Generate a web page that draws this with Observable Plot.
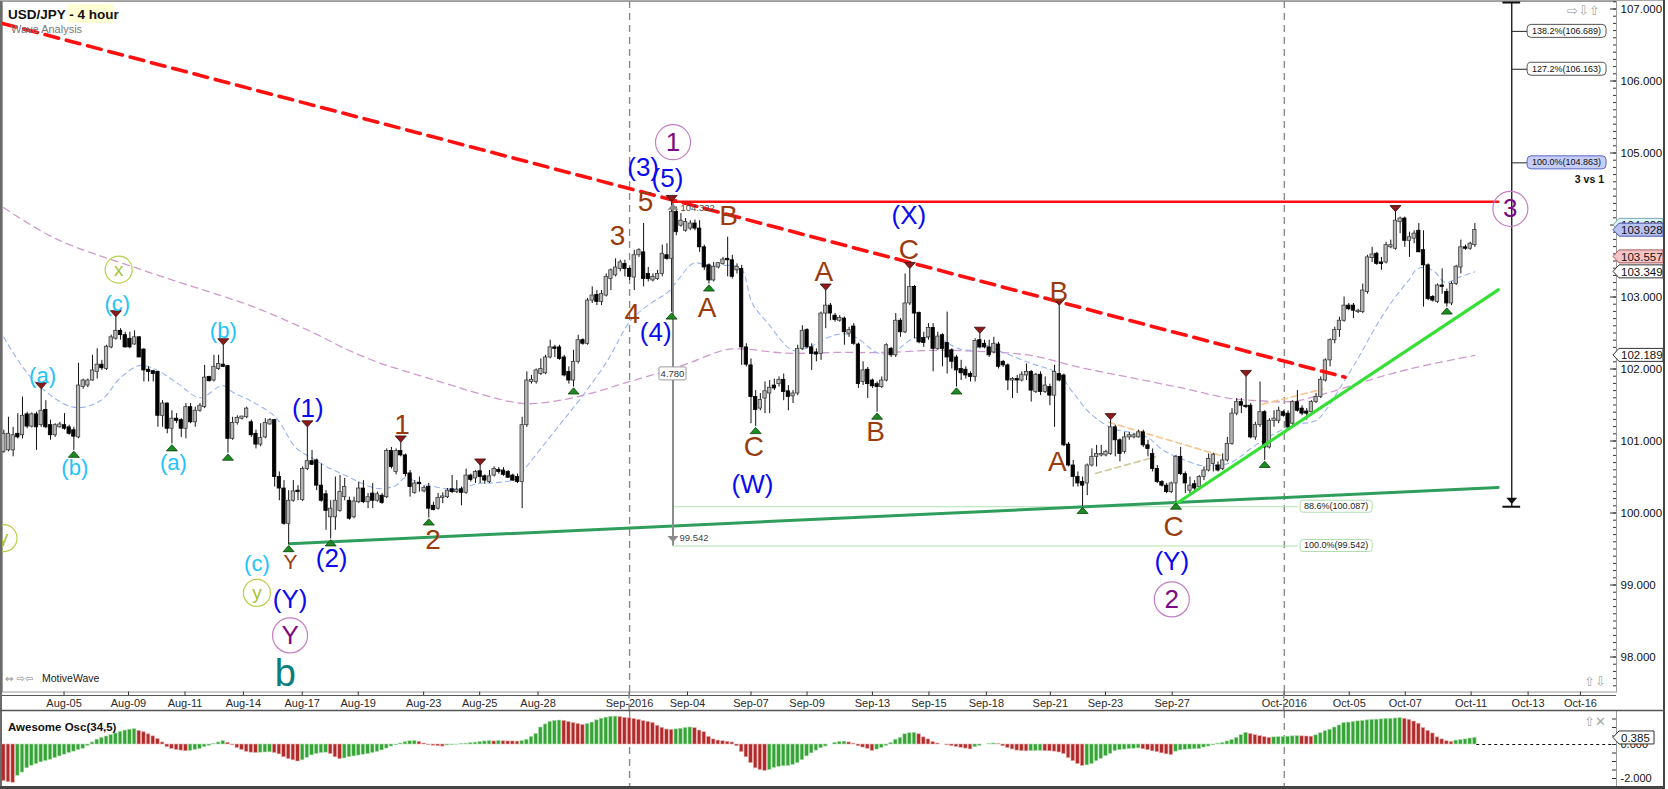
<!DOCTYPE html>
<html>
<head>
<meta charset="utf-8">
<script src="https://cdn.jsdelivr.net/npm/d3@7"></script>
<script src="https://cdn.jsdelivr.net/npm/@observablehq/plot@0.6"></script>
<style>
html,body{margin:0;padding:0;background:#fff;}
#wrap{position:relative;width:1668px;height:789px;overflow:hidden;}
#wrap svg{display:block;}
#overlay{position:absolute;left:0;top:0;}
</style>
</head>
<body>
<div id="wrap"></div>
<script>
// ---------------- DATA (USD/JPY 4-hour candles, bar index 0..315) ----------------
const openP = [
100.85,100.87,100.87,101.10,101.08,101.37,101.20,101.37,101.22,101.43,
101.22,101.08,101.19,101.22,101.19,101.15,101.05,101.75,101.77,101.84,
101.96,102.06,102.00,102.30,102.42,102.53,102.47,102.42,102.34,102.44,
102.27,101.99,101.97,101.96,101.35,101.52,101.17,101.31,101.29,101.17,
101.47,101.26,101.42,101.47,101.89,101.84,102.00,102.06,102.04,101.03,
101.25,101.31,101.33,101.26,101.10,100.95,101.05,101.23,101.29,100.50,
100.34,99.85,100.17,100.31,100.18,100.61,100.72,100.73,100.38,100.26,
99.94,99.94,100.03,100.22,100.17,99.94,100.15,100.34,100.15,100.27,
100.17,100.24,100.22,100.86,100.57,100.86,100.80,100.55,100.28,100.42,
100.30,100.36,100.10,100.06,100.21,100.22,100.33,100.29,100.33,100.28,
100.52,100.48,100.58,100.51,100.43,100.52,100.60,100.59,100.57,100.52,
100.50,100.43,101.22,101.82,101.82,101.93,101.94,102.16,102.30,102.30,
102.16,101.96,101.84,102.10,102.40,102.35,102.95,103.03,102.93,103.02,
103.25,103.30,103.39,103.46,103.39,103.27,103.58,103.62,103.32,103.23,
103.25,103.32,103.58,103.53,104.18,103.99,103.92,103.95,104.02,103.95,
103.69,103.44,103.23,103.41,103.46,103.53,103.51,103.37,103.39,102.30,
102.05,101.61,101.45,101.59,101.66,101.77,101.79,101.85,101.69,101.62,
101.66,102.28,102.54,102.30,102.23,102.21,102.77,102.88,102.74,102.67,
102.70,102.49,102.59,102.34,101.82,101.99,101.84,101.79,101.75,101.84,
102.28,102.19,102.67,102.51,102.91,103.14,102.78,102.43,102.44,102.57,
102.28,102.47,102.36,102.26,102.16,102.00,101.99,101.93,101.89,102.40,
102.35,102.30,102.23,102.34,102.10,102.05,101.84,101.86,101.84,101.91,
101.96,101.68,101.92,101.68,101.75,101.63,101.93,101.91,100.95,100.66,
100.50,100.43,100.41,100.66,100.78,100.80,100.80,100.82,101.19,101.01,
100.85,101.05,101.05,101.05,101.12,100.94,100.82,100.61,100.43,100.38,
100.29,100.41,100.78,100.54,100.31,100.40,100.36,100.50,100.59,100.68,
100.66,100.61,100.73,100.96,101.38,101.54,101.49,101.49,101.05,101.22,
101.40,100.91,101.28,101.28,101.40,101.38,101.24,101.54,101.45,101.41,
101.40,101.54,101.61,101.84,102.12,102.40,102.54,102.67,102.88,102.88,
102.79,102.79,103.07,103.54,103.60,103.48,103.48,103.69,103.67,104.04,
104.09,103.78,103.81,103.92,103.65,103.44,103.00,102.93,103.16,103.07,
102.91,103.18,103.41,103.69,103.67,103.72];
const highP = [
101.15,101.33,101.19,101.38,101.61,101.40,101.39,101.40,101.72,101.56,
101.29,101.24,101.26,101.38,101.22,101.19,102.08,101.86,101.86,102.19,
102.28,102.12,102.33,102.47,102.72,102.56,102.51,102.51,102.53,102.45,
102.28,102.03,101.98,101.96,101.56,101.53,101.42,101.38,101.31,101.52,
101.52,101.47,101.52,102.05,101.90,102.19,102.19,102.33,102.05,101.33,
101.35,101.33,101.47,101.29,101.15,101.24,101.31,101.31,101.30,100.57,
100.45,100.31,100.45,100.38,100.64,101.19,100.87,100.75,100.68,100.31,
100.17,100.50,100.52,100.48,100.22,100.22,100.43,100.45,100.27,100.41,
100.29,100.27,100.89,100.91,100.89,100.98,100.82,100.59,100.45,100.50,
100.38,100.41,100.15,100.27,100.28,100.34,100.52,100.45,100.36,100.61,
100.54,100.59,100.66,100.53,100.59,100.64,100.63,100.63,100.59,100.54,
100.54,101.33,101.96,101.91,102.00,102.14,102.19,102.40,102.33,102.33,
102.19,102.03,102.26,102.47,102.42,102.98,103.14,103.09,103.09,103.32,
103.39,103.53,103.51,103.51,103.41,103.65,103.67,104.02,103.41,103.32,
103.37,103.72,103.74,104.32,104.25,104.16,104.09,104.06,104.07,104.06,
103.72,103.46,103.48,103.48,103.55,103.83,103.58,103.46,103.44,102.35,
102.14,101.70,101.66,101.82,101.84,101.86,101.89,101.93,101.77,101.70,
102.33,102.60,102.56,102.35,102.28,102.79,103.09,102.91,102.77,102.74,
102.72,102.58,102.63,102.36,102.10,102.02,101.86,101.82,101.89,102.35,
102.30,102.77,102.70,103.32,103.39,103.16,102.79,102.51,102.63,102.63,
102.51,102.49,102.79,102.28,102.19,102.12,102.03,101.96,102.42,102.49,
102.40,102.40,102.44,102.37,102.12,102.07,101.88,101.91,101.96,102.07,
101.98,101.94,101.96,101.89,101.79,102.05,102.88,101.93,100.98,100.73,
100.57,100.50,100.68,100.89,100.94,100.94,100.87,101.29,101.22,101.03,
101.12,101.12,101.10,101.15,101.15,101.01,100.89,100.66,100.45,100.41,
100.43,100.80,100.91,100.57,100.50,100.45,100.52,100.64,100.82,100.83,
100.71,100.82,101.05,101.45,101.59,101.59,101.89,101.52,101.26,101.82,
101.42,101.31,101.42,101.47,101.42,101.42,101.56,101.70,101.49,101.45,
101.56,101.66,101.89,102.14,102.42,102.58,102.72,103.00,102.91,102.91,
102.83,103.18,103.58,103.69,103.62,103.55,103.76,103.79,104.18,104.11,
104.11,103.90,103.92,104.02,103.92,103.46,103.02,103.18,103.39,103.11,
103.21,103.44,103.79,103.72,103.76,104.02];
const lowP = [
100.83,100.85,100.78,101.03,101.03,101.17,101.18,100.87,101.19,101.17,
101.01,101.05,101.18,101.15,101.08,100.87,101.03,101.72,101.74,101.83,
101.86,101.98,101.98,102.28,102.40,102.40,102.29,102.28,102.33,102.16,
101.82,101.82,101.82,101.19,101.19,101.10,100.96,101.24,101.05,101.03,
101.24,101.19,101.40,101.45,101.82,101.82,101.98,102.02,100.83,101.01,
101.22,101.29,101.31,101.05,100.89,100.92,101.03,101.22,100.36,100.17,
99.83,99.56,100.15,100.17,100.16,100.59,100.66,100.31,100.15,99.76,
99.64,99.76,100.01,100.17,99.90,99.92,100.13,100.13,100.06,100.06,
100.15,100.12,100.20,100.61,100.53,100.78,100.50,100.22,100.26,100.29,
100.28,99.93,100.03,100.04,100.13,100.20,100.27,100.27,100.10,100.26,
100.43,100.41,100.41,100.40,100.41,100.50,100.54,100.51,100.48,100.44,
100.41,100.06,101.19,101.79,101.79,101.91,101.92,102.14,102.16,102.12,
101.89,101.79,101.75,102.07,102.33,102.33,102.91,102.88,102.88,103.00,
103.09,103.28,103.35,103.28,103.23,103.09,103.55,103.14,103.21,103.21,
103.23,103.28,103.51,102.79,103.85,103.97,103.90,103.92,103.92,103.62,
103.37,103.18,103.21,103.39,103.44,103.28,103.25,103.32,102.05,102.03,
101.24,101.20,101.42,101.38,101.38,101.70,101.75,101.56,101.42,101.52,
101.63,102.26,102.28,101.98,102.10,102.12,102.56,102.67,102.65,102.65,
102.33,102.44,102.33,101.73,101.77,101.59,101.73,101.40,101.73,101.82,
102.16,102.16,102.44,102.49,102.88,102.42,102.35,102.30,102.40,101.96,
102.26,102.03,101.93,102.00,101.75,101.84,101.86,101.82,101.82,102.28,
102.28,102.16,102.21,102.00,102.02,101.70,101.59,101.66,101.82,101.84,
101.54,101.66,101.63,101.66,101.49,101.19,101.82,100.92,100.64,100.36,
100.36,100.09,100.24,100.64,100.64,100.78,100.78,100.80,100.78,100.71,
100.82,101.01,101.03,101.04,100.91,100.78,100.57,100.41,100.36,100.27,
100.27,100.15,100.52,100.27,100.27,100.31,100.34,100.45,100.57,100.57,
100.57,100.59,100.71,100.94,101.35,101.38,101.45,101.03,101.01,101.19,
100.73,100.89,101.19,101.24,101.33,101.17,101.19,101.40,101.35,101.29,
101.35,101.52,101.59,101.82,102.03,102.35,102.44,102.65,102.81,102.70,
102.77,102.77,103.04,103.48,103.44,103.37,103.46,103.67,103.65,103.88,
103.69,103.55,103.74,103.62,102.86,102.95,102.93,102.91,103.04,102.86,
102.88,103.16,103.32,103.65,103.65,103.69];
const closeP = [
101.10,101.10,101.08,101.05,101.35,101.20,101.37,101.19,101.42,101.19,
101.08,101.22,101.23,101.17,101.10,101.06,101.77,101.84,101.84,101.98,
102.06,102.01,102.31,102.44,102.53,102.47,102.30,102.30,102.44,102.16,
101.98,101.96,101.93,101.35,101.52,101.17,101.31,101.28,101.17,101.47,
101.26,101.42,101.49,101.88,101.83,102.03,102.07,102.03,101.03,101.25,
101.32,101.34,101.45,101.08,100.95,101.04,101.25,101.29,100.50,100.34,
99.85,100.17,100.30,100.29,100.61,100.72,100.67,100.38,100.17,100.03,
100.06,100.17,100.29,100.36,99.92,100.16,100.34,100.15,100.22,100.17,
100.26,100.14,100.86,100.64,100.86,100.80,100.54,100.36,100.41,100.40,
100.35,100.06,100.04,100.21,100.23,100.31,100.29,100.32,100.28,100.52,
100.46,100.57,100.50,100.45,100.51,100.61,100.57,100.53,100.49,100.45,
100.43,101.22,101.84,101.85,101.98,102.00,102.16,102.30,102.28,102.14,
101.91,101.84,102.10,102.40,102.35,102.95,103.02,102.93,103.04,103.28,
103.37,103.41,103.48,103.39,103.28,103.58,103.65,103.25,103.25,103.28,
103.32,103.60,103.53,104.18,103.90,104.06,104.04,104.02,103.95,103.69,
103.41,103.23,103.42,103.47,103.52,103.51,103.28,103.42,102.30,102.06,
101.61,101.43,101.57,101.69,101.74,101.73,101.85,101.68,101.61,101.66,
102.28,102.53,102.30,102.21,102.20,102.77,102.88,102.77,102.68,102.71,
102.51,102.54,102.35,101.79,101.98,101.79,101.76,101.75,101.84,102.33,
102.19,102.67,102.51,102.91,103.14,102.77,102.37,102.36,102.57,102.28,
102.45,102.28,102.16,102.10,101.98,101.94,101.91,101.89,102.39,102.30,
102.30,102.19,102.35,102.03,102.05,101.84,101.86,101.84,101.92,101.96,
101.70,101.92,101.68,101.77,101.63,101.96,101.84,100.94,100.66,100.50,
100.41,100.38,100.66,100.78,100.82,100.82,100.85,101.19,101.01,100.82,
101.05,101.08,101.08,101.12,100.94,100.89,100.61,100.43,100.38,100.29,
100.41,100.78,100.54,100.41,100.38,100.34,100.50,100.59,100.75,100.81,
100.59,100.73,100.96,101.38,101.54,101.49,101.47,101.05,101.22,101.40,
100.91,101.28,101.31,101.42,101.35,101.19,101.54,101.42,101.38,101.38,
101.54,101.61,101.85,102.12,102.40,102.54,102.67,102.88,102.83,102.81,
102.81,103.09,103.55,103.59,103.46,103.46,103.72,103.72,104.06,104.09,
103.78,103.83,103.88,103.62,103.44,102.97,102.95,103.16,103.14,102.91,
103.18,103.42,103.69,103.67,103.74,103.93];

// Awesome Oscillator (34,5) histogram, one value per bar
const oscVals = [
-2.15,-2.22,-2.25,-1.84,-1.65,-1.40,-1.25,-1.15,-1.05,-0.97,
-0.9,-0.8,-0.7,-0.6,-0.5,-0.42,-0.33,-0.25,-0.08,0.12,
0.28,0.38,0.47,0.55,0.65,0.74,0.82,0.87,0.9,0.8,
0.72,0.6,0.48,0.32,0.12,-0.15,-0.26,-0.32,-0.36,-0.4,
-0.37,-0.32,-0.26,-0.16,-0.08,0.02,0.12,0.2,0.1,-0.04,
-0.2,-0.32,-0.43,-0.48,-0.5,-0.48,-0.47,-0.46,-0.5,-0.58,
-0.75,-0.86,-0.93,-1.0,-0.93,-0.78,-0.64,-0.55,-0.5,-0.48,
-0.56,-0.75,-0.86,-0.82,-0.75,-0.7,-0.65,-0.6,-0.56,-0.5,
-0.43,-0.35,-0.24,-0.12,-0.04,0.06,0.14,0.19,0.2,0.15,
0.06,-0.03,-0.07,-0.1,-0.12,-0.06,-0.03,-0.01,0.02,0.05,
0.08,0.11,0.14,0.18,0.2,0.18,0.2,0.19,0.18,0.18,
0.17,0.2,0.28,0.45,0.62,1.0,1.18,1.33,1.39,1.41,
1.39,1.32,1.26,1.2,1.15,1.2,1.29,1.42,1.52,1.58,
1.62,1.64,1.61,1.57,1.54,1.5,1.45,1.38,1.33,1.26,
1.1,0.98,0.88,0.86,0.89,0.93,0.97,1.0,0.96,0.82,
0.72,0.45,0.3,0.23,0.19,0.16,0.12,-0.1,-0.45,-0.75,
-1.1,-1.4,-1.5,-1.55,-1.5,-1.38,-1.31,-1.28,-1.26,-1.2,
-1.1,-0.92,-0.7,-0.52,-0.36,-0.22,-0.12,0.0,0.1,0.15,
0.17,0.12,0.05,-0.1,-0.18,-0.25,-0.38,-0.3,-0.2,-0.08,
0.08,0.28,0.39,0.6,0.66,0.68,0.6,0.42,0.3,0.14,
0.06,0.0,-0.05,-0.1,-0.14,-0.19,-0.24,-0.29,-0.16,-0.08,
0.0,0.03,0.06,0.02,-0.1,-0.2,-0.29,-0.36,-0.39,-0.4,
-0.39,-0.38,-0.37,-0.39,-0.4,-0.42,-0.47,-0.56,-0.8,-0.98,
-1.15,-1.26,-1.23,-1.15,-0.98,-0.84,-0.68,-0.55,-0.38,-0.33,
-0.3,-0.27,-0.25,-0.23,-0.28,-0.33,-0.4,-0.45,-0.52,-0.58,
-0.62,-0.42,-0.35,-0.31,-0.29,-0.28,-0.27,-0.18,-0.12,-0.05,
0.05,0.1,0.18,0.26,0.39,0.55,0.68,0.62,0.55,0.49,
0.44,0.39,0.42,0.43,0.44,0.46,0.48,0.49,0.48,0.47,
0.46,0.54,0.66,0.78,0.87,1.0,1.12,1.26,1.29,1.32,
1.36,1.39,1.42,1.45,1.46,1.48,1.5,1.51,1.53,1.55,
1.51,1.45,1.35,1.22,0.97,0.8,0.65,0.42,0.3,0.19,
0.15,0.23,0.26,0.3,0.35,0.385];

// moving averages read at sample bars
const maFastIdx = [0,6.4,14.9,20.7,25,29.3,32.9,37.2,42.1,46.8,49.2,52.8,58.2,62.5,66.1,69.5,73.2,76.8,80.2,83.9,86,88.8,94.6,98.2,101.6,105.3,110,111.3,118.6,123.5,129.3,134.2,138.5,142.1,144.3,147.7,150.7,154.1,157.8,160.3,163.7,168.9,172.3,176.6,179.6,182.4,187.3,190.3,194.6,196.7,201,203.8,206.6,210.2,212.8,219.9,225.6,229.1,232.7,237.6,241.3,244.9,248.3,252,256.3,259,262.7,268.7,276,280.9,283,286.7,290.1,293.7,297.4,300.8,302.9,306,308.7,311.5,315];
const maFastVal = [102.44,101.84,101.47,101.56,101.88,102.05,101.98,101.80,101.60,101.77,101.67,101.56,101.33,100.91,100.76,100.63,100.52,100.41,100.34,100.38,100.49,100.42,100.34,100.35,100.41,100.42,100.48,100.59,101.19,101.59,102.12,102.67,102.91,103.06,103.23,103.47,103.44,103.44,103.40,102.91,102.63,102.26,102.30,102.44,102.49,102.44,102.22,102.23,102.42,102.44,102.40,102.30,102.26,102.33,102.26,102.08,101.94,101.66,101.38,101.17,101.12,101.05,100.87,100.76,100.66,100.66,100.70,100.97,101.22,101.28,101.42,101.80,102.16,102.58,102.95,103.23,103.40,103.37,103.20,103.27,103.35];
const maSlowIdx = [0,11.1,29.9,52.8,58.8,66.1,73.2,80.2,87.5,94.6,101.6,111.3,118.6,125.6,132.7,140,147,154.1,157.8,167.4,178.1,188.8,199.5,210.2,219.8,230.6,241.3,252,262.7,268.7,276,283,290.1,297.4,304.4,315];
const maSlowVal = [104.24,103.81,103.37,102.88,102.72,102.51,102.28,102.09,101.94,101.80,101.66,101.52,101.56,101.66,101.80,101.94,102.09,102.26,102.28,102.22,102.23,102.23,102.26,102.24,102.19,102.02,101.88,101.74,101.59,101.56,101.55,101.66,101.80,101.94,102.05,102.19];

// time axis
const dateTickIdx = [12.9,26.7,38.8,51.3,63.9,75.9,89.9,101.9,114.4,134.0,146.4,160.0,172.0,186.0,198.1,210.4,224.1,235.9,250.2,274.2,288.1,300.1,314.2,326.4,337.6];
const dateTickLabels = ["Aug-05","Aug-09","Aug-11","Aug-14","Aug-17","Aug-19","Aug-23","Aug-25","Aug-28","Sep-2016","Sep-04","Sep-07","Sep-09","Sep-13","Sep-15","Sep-18","Sep-21","Sep-23","Sep-27","Oct-2016","Oct-05","Oct-07","Oct-11","Oct-13","Oct-16"];
const monthStartIdx = [134.0, 274.2];
const priceTicks = [98,99,100,101,102,103,104,105,106,107];
const oscTicks = [-2, 0];

// swing markers (bar indices)
const swingHighIdx = [8,24,47,65,85,102,143,176,194,209,226,237,266,298];
const swingLowIdx = [15,36,48,61,70,91,122,143,151,161,187,204,231,251,270,309];

// trend lines (bar index, price)
const redDashIdx = [-0.28, 287.2], redDashVal = [106.80, 101.886];
const resistIdx = [143.2, 320], resistVal = [104.322, 104.322];
const supportIdx = [61.2, 320], supportVal = [99.572, 100.354];
const upTrendIdx = [250.8, 320], upTrendVal = [100.118, 103.10];
const triUpperIdx = [236.6, 260.5], triUpperVal = [101.26, 100.80];
const triLowerIdx = [233.8, 246.6], triLowerVal = [100.55, 100.78];
const triUpper2Idx = [269.5, 282.4], triUpper2Val = [101.51, 101.72];

// measurements / fibonacci
const measureIdx = 143.3, measureHi = 104.322, measureLo = 99.542, measureText = "4.780";
const retraceLevels = [100.087, 99.542], retraceNames = ["88.6%(100.087)", "100.0%(99.542)"];
const retraceEndIdx = 277.2, retraceLabelIdx = 285.4;
const projIdx = 322.9, projTop = 107.09, projBottom = 100.087;
const extLevels = [106.689, 106.163, 104.863], extNames = ["138.2%(106.689)", "127.2%(106.163)", "100.0%(104.863)"];
const extLabelIdx = [326.3, 343.2];
const tagValues = [103.995, 103.928, 103.557, 103.349, 102.189];
const tagTexts = ["104.022", "103.928", "103.557", "103.349", "102.189"];
const oscTagValue = 0.385;

// wave labels: [text, bar index, price]
const cyanLabels = [["(a)",8.3,101.91],["(b)",15.2,100.62],["(c)",24.3,102.91],["(a)",36.3,100.70],["(b)",47.0,102.53],["(c)",54.2,99.29]];
const blueLabels = [["(1)",65.1,101.45],["(2)",70.2,99.37],["(Y)",61.3,98.80],["(3)",136.9,104.80],["(5)",142.1,104.65],["(4)",139.6,102.51],["(W)",160.3,100.40],["(X)",193.8,104.13],["(Y)",250.1,99.32]];
const brownLabels = [["1",85.3,101.22],["2",91.9,99.63],["3",131.4,103.85],["5",137.4,104.32],["4",134.6,102.77],["B",155.2,104.13],["A",150.6,102.84],["C",160.6,100.91],["A",175.6,103.34],["B",186.7,101.12],["C",193.8,103.65],["B",225.9,103.07],["A",225.6,100.71],["C",250.5,99.80]];
const brownSmall = [["Y",61.4,99.31]];
const purpleCircled = [["1",143.3,105.15],["Y",61.3,98.30],["2",250.1,98.80],["3",322.6,104.225]];
const olivCircled = [["x",24.6,103.38],["y",54.2,98.89],["y",-0.06,99.65]];
const tealLabels = [["b",60.3,97.77]];

// ---------------- BUILD ----------------
const W = 1668, MAIN_H = 711, OSC_H = 78, ML = 2, MR = 52;
const FONT = '"Liberation Sans", Arial, Helvetica, sans-serif';
const xDomain = [-0.278, 345.33];
const candles = openP.map((o, i) => ({i, o, h: highP[i], l: lowP[i], c: closeP[i]}));
const lbl = a => a.map(([t, i, p]) => ({t, i, p}));
const labelMap = new Map(dateTickIdx.map((d, k) => [d, dateTickLabels[k]]));
const minorPriceTicks = d3.range(976, 1072).map(d => d / 10);

const triDown = {draw(ctx) { ctx.moveTo(-5.5, -3); ctx.lineTo(5.5, -3); ctx.lineTo(0, 3.2); ctx.closePath(); }};
const triUp = {draw(ctx) { ctx.moveTo(-5.5, 3); ctx.lineTo(5.5, 3); ctx.lineTo(0, -3.2); ctx.closePath(); }};
const line2 = (xs, ys, opts) => Plot.line([0, 1], {x: xs, y: ys, ...opts});

const main = Plot.plot({
  width: W, height: MAIN_H,
  marginLeft: ML, marginRight: MR, marginTop: 1, marginBottom: 19.5,
  x: {domain: xDomain, axis: null, label: null},
  y: {domain: [97.514, 107.104], axis: null, label: null},
  style: {fontFamily: FONT, background: "transparent", overflow: "visible"},
  marks: [
    Plot.frame({stroke: "#9c9c9c"}),
    Plot.ruleX(monthStartIdx, {stroke: "#8a8a8a", strokeWidth: 1.4, strokeDasharray: "7,5"}),
    Plot.ruleY(retraceLevels, {x1: measureIdx, x2: retraceEndIdx, stroke: "#b2e2b2", strokeWidth: 1}),
    Plot.line(maSlowIdx, {x: maSlowIdx, y: maSlowVal, stroke: "#d09ad0", strokeWidth: 1.3, strokeDasharray: "7,5", curve: "catmull-rom"}),
    Plot.line(maFastIdx, {x: maFastIdx, y: maFastVal, stroke: "#97b4f2", strokeWidth: 1.1, strokeDasharray: "5,4", curve: "catmull-rom"}),
    line2(triUpperIdx, triUpperVal, {stroke: "#f7c48e", strokeWidth: 1.6, strokeDasharray: "6,4"}),
    line2(triUpper2Idx, triUpper2Val, {stroke: "#f7c48e", strokeWidth: 1.6, strokeDasharray: "6,4"}),
    line2(triLowerIdx, triLowerVal, {stroke: "#cfc99a", strokeWidth: 1.6, strokeDasharray: "6,4"}),
    line2(supportIdx, supportVal, {stroke: "#2f9e5c", strokeWidth: 3}),
    // measuring tool
    Plot.ruleX([measureIdx], {y1: measureLo, y2: measureHi, stroke: "#8c8c8c", strokeWidth: 2}),
    // candles
    Plot.ruleX(candles, {x: "i", y1: "l", y2: "h", stroke: "#111", strokeWidth: 1}),
    Plot.rect(candles, {
      x1: d => d.i - 0.36, x2: d => d.i + 0.36,
      y1: "o", y2: d => Math.abs(d.c - d.o) < 0.012 ? d.o + (d.c >= d.o ? 0.012 : -0.012) : d.c,
      fill: d => d.c >= d.o ? "#b6b6b6" : "#000000",
      stroke: d => d.c >= d.o ? "#3c3c3c" : "#000000", strokeWidth: 0.8
    }),
    // trend lines on top
    line2(redDashIdx, redDashVal, {stroke: "#ff1010", strokeWidth: 3.6, strokeDasharray: "14,8"}),
    line2(resistIdx, resistVal, {stroke: "#ff1010", strokeWidth: 2.6}),
    line2(upTrendIdx, upTrendVal, {stroke: "#35e035", strokeWidth: 3.2}),
    // swing markers
    Plot.dot(swingHighIdx, {x: d => d, y: d => highP[d], symbol: triDown, dy: -3.5, fill: "#8e1b1b", stroke: "#3a0808", strokeWidth: 0.8}),
    Plot.dot(swingLowIdx, {x: d => d, y: d => lowP[d], symbol: triUp, dy: 4, fill: "#1c8c22", stroke: "#0a3f0a", strokeWidth: 0.8}),
    Plot.dot([measureHi], {x: measureIdx, y: d => d, symbol: triUp, dy: 5, fill: "#8a8a8a"}),
    Plot.dot([measureLo], {x: measureIdx, y: d => d, symbol: triDown, dy: -7, fill: "#8a8a8a"}),
    // projection on the right
    Plot.ruleX([projIdx], {y1: projBottom, y2: projTop, stroke: "#111", strokeWidth: 1.3}),
    Plot.ruleY([projBottom, projTop], {x1: projIdx - 1.9, x2: projIdx + 1.9, stroke: "#111", strokeWidth: 2}),
    Plot.dot([projBottom], {x: projIdx, y: d => d, symbol: triDown, dy: -6, fill: "#111"}),
    Plot.ruleY(extLevels, {x1: projIdx, x2: extLabelIdx[0], stroke: "#222", strokeWidth: 1}),
    // circled labels
    Plot.dot(lbl(olivCircled), {x: "i", y: "p", r: 13.5, stroke: "#b7d04a", strokeWidth: 1.2, fill: "none"}),
    Plot.text(lbl(olivCircled), {x: "i", y: "p", text: "t", fill: "#a8c236", fontSize: 19}),
    Plot.dot(lbl(purpleCircled), {x: "i", y: "p", r: 17.5, stroke: "#c47ec4", strokeWidth: 1.2, fill: "none"}),
    Plot.text(lbl(purpleCircled), {x: "i", y: "p", text: "t", fill: "#7c0a82", fontSize: 26}),
    // wave labels
    Plot.text(lbl(cyanLabels), {x: "i", y: "p", text: "t", fill: "#1ec4fa", fontSize: 22}),
    Plot.text(lbl(blueLabels), {x: "i", y: "p", text: "t", fill: "#0a0af0", fontSize: 26}),
    Plot.text(lbl(brownLabels), {x: "i", y: "p", text: "t", fill: "#9a3b0e", fontSize: 28}),
    Plot.text(lbl(brownSmall), {x: "i", y: "p", text: "t", fill: "#9a3b0e", fontSize: 21}),
    Plot.text(lbl(tealLabels), {x: "i", y: "p", text: "t", fill: "#0b7e7e", fontSize: 38}),
    // axes
    Plot.tickY(minorPriceTicks, {y: d => d, insetLeft: 1611, stroke: "#333"}),
    Plot.tickY(priceTicks, {y: d => d, insetLeft: 1608, stroke: "#333"}),
    Plot.axisY({anchor: "right", label: null, ticks: priceTicks, tickSize: 0, tickPadding: 4, tickFormat: d => d.toFixed(3), fontSize: 11.5, fill: "#111"}),
    Plot.axisX({anchor: "bottom", label: null, ticks: dateTickIdx, tickFormat: d => labelMap.get(d), tickSize: 4, tickPadding: 3, fontSize: 11, fill: "#2a2a2a", stroke: "#333"})
  ]
});

const oscData = oscVals.map((v, i) => ({i, v, up: i === 0 ? v >= 0 : v > oscVals[i - 1]}));
const osc = Plot.plot({
  width: W, height: OSC_H,
  marginLeft: ML, marginRight: MR, marginTop: 0, marginBottom: 0,
  x: {domain: xDomain, axis: null, label: null},
  y: {domain: [-2.647, 1.941], axis: null, label: null},
  style: {fontFamily: FONT, background: "transparent", overflow: "visible"},
  marks: [
    Plot.ruleX(monthStartIdx, {stroke: "#8a8a8a", strokeWidth: 1.4, strokeDasharray: "7,5"}),
    Plot.rect(oscData, {x1: d => d.i - 0.38, x2: d => d.i + 0.38, y1: 0, y2: "v",
      fill: d => d.up ? "#36a336" : "#b12b2b", stroke: d => d.up ? "#a9dca9" : "#e6a9a9", strokeWidth: 0.6}),
    Plot.ruleY([0], {x1: 315.4, x2: 345.33, stroke: "#111", strokeDasharray: "3,3"}),
    Plot.ruleX([xDomain[1]], {stroke: "#999"}),
    Plot.tickY(d3.range(-2.5, 2, 0.5), {y: d => d, insetLeft: 1610, stroke: "#333"}),
    Plot.axisY({anchor: "right", label: null, ticks: oscTicks, tickSize: 0, tickPadding: 4, tickFormat: d => d.toFixed(3), fontSize: 11, fill: "#111"})
  ]
});

const wrap = document.getElementById("wrap");
wrap.appendChild(main);
wrap.appendChild(osc);

// ---------------- annotation overlays drawn with the plots' own scales ----------------
const xS = main.scale("x"), yS = main.scale("y");
const X = v => xS.apply(v), Y = v => yS.apply(v);
const right = X(xDomain[1]);
const sm = d3.select(main);

function box(sel, x, y, w, h, fill, stroke, rx) {
  return sel.append("rect").attr("x", x).attr("y", y).attr("width", w).attr("height", h)
    .attr("rx", rx || 0).attr("fill", fill).attr("stroke", stroke).attr("stroke-width", 1);
}
function txt(sel, x, y, s, size, opts = {}) {
  const t = sel.append("text").attr("x", x).attr("y", y).text(s)
    .attr("font-size", size).attr("font-family", opts.family || FONT).attr("fill", opts.fill || "#111")
    .attr("text-anchor", opts.anchor || "start")
    .attr("dominant-baseline", "central");
  if (opts.weight) t.attr("font-weight", opts.weight);
  return t;
}

// title
box(sm, 68, 4, 45, 19, "#ffffd6", "none");
txt(sm, 8, 14, "USD/JPY - 4 hour", 13.5, {weight: "bold"});
txt(sm, 11, 29, "Wave Analysis", 11, {fill: "#7a7a7a"});

// measuring tool labels
const mx = X(measureIdx);
box(sm, mx - 13.5, Y((measureHi + measureLo) / 2) - 6.5, 27, 13, "#fff", "#999", 1);
txt(sm, mx, Y((measureHi + measureLo) / 2), measureText, 9.5, {anchor: "middle", fill: "#333"});
txt(sm, mx + 8, Y(measureHi) + 6.5, measureHi.toFixed(3), 9.5, {fill: "#444"});
txt(sm, mx + 7, Y(measureLo) - 8, measureLo.toFixed(3), 9.5, {fill: "#444"});

// retracement labels
retraceLevels.forEach((v, k) => {
  const cx = X(retraceLabelIdx);
  box(sm, cx - 36, Y(v) - 6, 72, 12, "#fff", "#b0deb0", 3);
  txt(sm, cx, Y(v), retraceNames[k], 9, {anchor: "middle", fill: "#222"});
});

// extension labels
extLevels.forEach((v, k) => {
  const x0 = X(extLabelIdx[0]), x1 = X(extLabelIdx[1]);
  const last = k === extLevels.length - 1;
  box(sm, x0, Y(v) - 6.5, x1 - x0, 13, last ? "#c6cef7" : "#fff", last ? "#5b67c2" : "#555", 4);
  txt(sm, (x0 + x1) / 2, Y(v), extNames[k], 9, {anchor: "middle", fill: "#111"});
});
txt(sm, X(extLabelIdx[1]) - 2, Y(extLevels[2]) + 17, "3 vs 1", 10.5, {anchor: "end", weight: "bold"});

// price tags on the right axis (first one sits mostly hidden behind the last-price tag)
const tagFill = ["#dcf3f6", "#b8c2f3", "#f6c4c4", "#ffffff", "#ffffff"];
const tagStroke = ["#7aaab0", "#4a56a8", "#a85a5a", "#333", "#333"];
tagValues.forEach((v, k) => {
  const y = Y(v);
  sm.append("path").attr("d", `M${right - 3},${y} L${right + 3},${y - 6.5} H${right + 47} V${y + 6.5} H${right + 3} Z`)
    .attr("fill", tagFill[k]).attr("stroke", tagStroke[k]).attr("stroke-width", 1);
  txt(sm, right + 5, y + 0.5, tagTexts[k], 11.5, {fill: "#111"});
});

// small UI glyphs
txt(sm, 1567, 10, "⇨⇩⇧", 13, {fill: "#a8a8a8", family: "DejaVu Sans"});
txt(sm, 1584, 681, "⇧⇩", 13, {fill: "#a8a8a8", family: "DejaVu Sans"});
txt(sm, 5, 678, "⇔ ⇨⇦", 10, {fill: "#888", family: "DejaVu Sans"});
txt(sm, 42, 678, "MotiveWave", 10.5, {fill: "#222"});

// date strip lines
sm.append("line").attr("x1", 0).attr("x2", right).attr("y1", 695.5).attr("y2", 695.5).attr("stroke", "#555");
monthStartIdx.forEach(v => {
  sm.append("line").attr("x1", X(v)).attr("x2", X(v)).attr("y1", 691.5).attr("y2", MAIN_H)
    .attr("stroke", "#8a8a8a").attr("stroke-width", 1.4).attr("stroke-dasharray", "7,5");
});

// oscillator overlays
const so = d3.select(osc);
const oy = osc.scale("y");
txt(so, 8, 16, "Awesome Osc(34,5)", 11.5, {weight: "bold"});
const ty = oy.apply(oscTagValue);
so.append("path").attr("d", `M${right - 3},${ty} L${right + 3},${ty - 6.5} H${right + 38} V${ty + 6.5} H${right + 3} Z`)
  .attr("fill", "#fff").attr("stroke", "#333");
txt(so, right + 5, ty + 0.5, oscTagValue.toFixed(3), 11.5);
txt(so, 1584, 10, "⇧✕", 13, {fill: "#a8a8a8", family: "DejaVu Sans"});

// outer borders
const ov = d3.select(wrap).append("svg").attr("id", "overlay").attr("width", W).attr("height", 789);
ov.append("line").attr("x1", 1).attr("x2", 1).attr("y1", 0).attr("y2", 789).attr("stroke", "#6a6a6a").attr("stroke-width", 2);
ov.append("line").attr("x1", 0).attr("x2", 1665).attr("y1", 0.5).attr("y2", 0.5).attr("stroke", "#aaa");
ov.append("line").attr("x1", 1664).attr("x2", 1664).attr("y1", 0).attr("y2", 789).attr("stroke", "#444").attr("stroke-width", 2);
ov.append("line").attr("x1", 0).attr("x2", 1665).attr("y1", 710.5).attr("y2", 710.5).attr("stroke", "#555").attr("stroke-width", 1.5);
ov.append("line").attr("x1", 0).attr("x2", 1665).attr("y1", 787.5).attr("y2", 787.5).attr("stroke", "#444").attr("stroke-width", 3);
</script>
</body>
</html>
